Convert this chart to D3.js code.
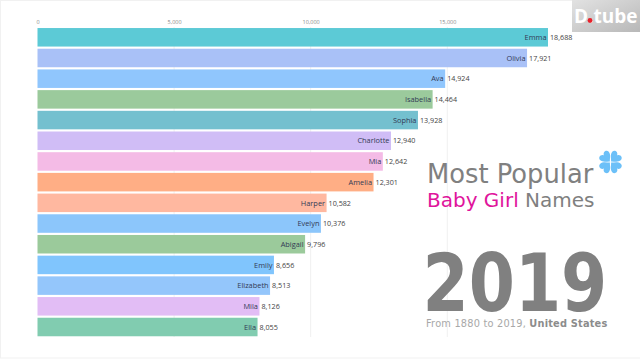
<!DOCTYPE html>
<html><head><meta charset="utf-8">
<style>html,body{margin:0;padding:0;background:#fff;overflow:hidden}svg{display:block}</style>
<script src="https://cdn.jsdelivr.net/npm/d3@7/dist/d3.min.js"></script>
</head><body><svg id="c" width="640" height="360"></svg>
<script>
const names=["Emma","Olivia","Ava","Isabella","Sophia","Charlotte","Mia","Amelia","Harper","Evelyn","Abigail","Emily","Elizabeth","Mila","Ella"];
const values=[18688,17921,14924,14464,13928,12940,12642,12301,10582,10376,9796,8656,8513,8126,8055];
const colors=["#5ccad6","#a9c1f7","#90c6fd","#9bca9c","#74c0cf","#d0bdf6","#f4bbe6","#ffae85","#ffb8a0","#8cc6fb","#9bca9b","#80c5fd","#94c6fb","#e2bdf5","#81ccb0"];
const ticks=[0,5000,10000,15000];
const fmt=d3.format(",");
const svg=d3.select("#c");
const x=d3.scaleLinear().domain([0,18688]).range([37.5,548]);
const y=d3.scaleBand().domain(names).range([27,337.3]).paddingInner(0.105).paddingOuter(0.05);

svg.append("rect").attr("x",0.5).attr("y",0.5).attr("width",660).attr("height",357.5).attr("fill","none").attr("stroke","#f1f1f1");

const g=svg.append("g").attr("transform","translate(0,24)");
g.call(d3.axisTop(x).tickValues(ticks).tickFormat(fmt).tickSize(0).tickPadding(0))
 .call(s=>s.select(".domain").remove())
 .call(s=>s.selectAll("text").attr("font-family","Open Sans, sans-serif").attr("font-size",5.5).attr("fill","#888"));
svg.selectAll(".grid").data(ticks.slice(1)).join("line").attr("class","grid")
 .attr("x1",d=>x(d)).attr("x2",d=>x(d)).attr("y1",27).attr("y2",337)
 .attr("stroke","#f0f0f0");

svg.selectAll(".bar").data(names).join("rect").attr("class","bar")
 .attr("x",x(0)).attr("y",d=>y(d)).attr("height",y.bandwidth())
 .attr("width",(d,i)=>x(values[i])-x(0)).attr("fill",(d,i)=>colors[i]);

svg.selectAll(".nm").data(names).join("text").attr("class","nm")
 .attr("x",(d,i)=>x(values[i])-1.5).attr("y",d=>y(d)+y.bandwidth()/2+2.7)
 .attr("text-anchor","end").attr("font-family","Open Sans, sans-serif").attr("font-size",7.4)
 .attr("fill","#333a55").text(d=>d);
svg.selectAll(".val").data(values).join("text").attr("class","val")
 .attr("x",d=>x(d)+2).attr("y",(d,i)=>y(names[i])+y.bandwidth()/2+2.7)
 .attr("font-family","Open Sans, sans-serif").attr("font-size",7.2)
 .attr("fill","#444").text(d=>fmt(d));

const f="DejaVu Sans, sans-serif";
svg.append("text").attr("transform","translate(427,183) scale(0.955,1)").attr("font-family",f).attr("font-size",27).attr("fill","#808080").text("Most Popular");
const t2=svg.append("text").attr("x",427).attr("y",207).attr("font-family",f).attr("font-size",20).attr("fill","#808080");
t2.append("tspan").attr("fill","#e0149c").text("Baby Girl");
t2.append("tspan").text(" Names");
svg.append("text").attr("transform","translate(422.5,311) scale(0.83,1)").attr("font-family",f).attr("font-size",80).attr("font-weight","bold").attr("fill","#808080").text("2019");
const t3=svg.append("text").attr("x",426).attr("y",327).attr("font-family",f).attr("font-size",9.8).attr("letter-spacing",0.2).attr("fill","#a8a8a8");
t3.append("tspan").text("From 1880 to 2019, ");
t3.append("tspan").attr("font-weight","bold").attr("fill","#8c8c8c").text("United States");

const clover=svg.append("g").attr("transform","translate(610.5,162)").attr("fill","#6cc0f8");
[45,135,225,315].forEach(a=>clover.append("path")
 .attr("transform",`rotate(${a}) translate(0,-0.8)`)
 .attr("d","M0,0 C-1.5,-2 -6,-4 -6,-8 C-6,-11 -1.5,-12 0,-8.5 C1.5,-12 6,-11 6,-8 C6,-4 1.5,-2 0,0Z"));

const grad=svg.append("defs").append("linearGradient").attr("id","wm").attr("x1",0).attr("y1",0).attr("x2",1).attr("y2",1);
grad.append("stop").attr("offset",0).attr("stop-color","#e2e2e2");
grad.append("stop").attr("offset",1).attr("stop-color","#b8b8b8");
svg.append("rect").attr("x",572).attr("y",0).attr("width",68).attr("height",32).attr("fill","url(#wm)");
svg.append("text").attr("transform","translate(574,23) scale(0.95,1)").attr("font-family","Open Sans, sans-serif").attr("font-size",20).attr("font-weight","bold").attr("fill","#fff").text("D.tube");
svg.append("circle").attr("cx",590).attr("cy",20.5).attr("r",2.4).attr("fill","#e8202a");
</script></body></html>
